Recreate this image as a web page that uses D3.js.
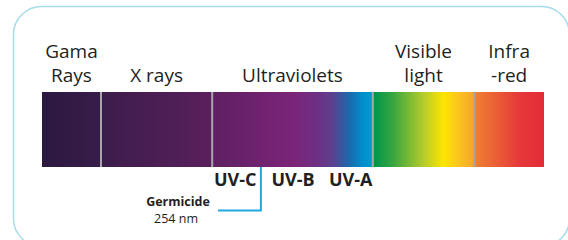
<!DOCTYPE html>
<html lang="en">
<head>
<meta charset="UTF-8">
<title>Spectrum</title>
<script src="https://cdn.jsdelivr.net/npm/d3@7"></script>
<style>
  body { margin: 0; background: #fff; }
  text { font-family: "Open Sans", sans-serif; fill: #231f20; }
</style>
</head>
<body>
<script>
// bands of the spectrum (position units 0..100 along the bar)
var bandNames = [["Gama", "Rays"], ["X rays"], ["Ultraviolets"], ["Visible", "light"], ["Infra", "-red"]];
var bandEdges = [0, 11.75, 33.9, 65.9, 86.1, 100];

// UV sub bands
var uvNames = ["UV-C", "UV-B", "UV-A"];
var uvCenters = [38.5, 50, 61.5];

// germicide marker
var germPos = 43.6;
var germLabel = ["Germicide", "254 nm"];

// colour stops along the bar
var stopPos = [0, 11.7, 11.8, 33.8, 34, 50, 55, 58, 61, 64, 65.8, 66.2, 70, 76, 80, 83, 85.9, 86.3, 91, 95, 100];
var stopColors = ["#2c1940", "#381c49", "#3b1d4b", "#5a1f5d", "#5e2061", "#7b2479", "#6d3083", "#5b418f", "#1e66aa", "#0090cc", "#0099d0",
                  "#00964b", "#3aa640", "#b4cc2c", "#fee500", "#fbc420", "#f5a72a", "#f07f33", "#ea5a36", "#e6393a", "#e32b36"];

var width = 568, height = 240;

var svg = d3.select("body").append("svg")
    .attr("width", width)
    .attr("height", height);

// frame
svg.append("rect")
    .attr("x", 13.5).attr("y", 6.5)
    .attr("width", 556).attr("height", 240)
    .attr("rx", 28).attr("ry", 28)
    .attr("fill", "none")
    .attr("stroke", "#a9dcea")
    .attr("stroke-width", 1.5);

var x = d3.scaleLinear().domain([0, 100]).range([42, 544]);
var barTop = 92, barBottom = 167;

var grad = svg.append("defs").append("linearGradient")
    .attr("id", "spec")
    .attr("gradientUnits", "userSpaceOnUse")
    .attr("x1", x(0)).attr("x2", x(100))
    .attr("y1", 0).attr("y2", 0);

grad.selectAll("stop")
    .data(stopPos)
    .enter().append("stop")
    .attr("offset", function (d) { return d / 100; })
    .attr("stop-color", function (d, i) { return stopColors[i]; });

svg.append("rect")
    .attr("x", x(0)).attr("y", barTop)
    .attr("width", x(100) - x(0))
    .attr("height", barBottom - barTop)
    .attr("fill", "url(#spec)");

// separators
svg.selectAll("line.sep")
    .data(bandEdges.slice(1, -1))
    .enter().append("line")
    .attr("class", "sep")
    .attr("x1", function (d) { return x(d); })
    .attr("x2", function (d) { return x(d); })
    .attr("y1", barTop).attr("y2", barBottom)
    .attr("stroke", "#a7a7a9")
    .attr("stroke-width", 2);

// band labels
var lab = svg.selectAll("text.band")
    .data(bandNames)
    .enter().append("text")
    .attr("class", "band")
    .attr("text-anchor", "middle")
    .attr("font-size", "19px")
    .attr("x", function (d, i) { return x((bandEdges[i] + bandEdges[i + 1]) / 2); });

lab.selectAll("tspan")
    .data(function (d) { return d.length == 1 ? ["", d[0]] : d; })
    .enter().append("tspan")
    .attr("x", function () { return d3.select(this.parentNode).attr("x"); })
    .attr("y", function (d, i) { return 58 + i * 24; })
    .text(function (d) { return d; });

// germicide line
svg.append("path")
    .attr("d", "M" + x(germPos) + "," + barBottom + "V210.5H218")
    .attr("fill", "none")
    .attr("stroke", "#1ea9e1")
    .attr("stroke-width", 2);

// UV sub labels
svg.selectAll("text.uv")
    .data(uvNames)
    .enter().append("text")
    .attr("class", "uv")
    .attr("text-anchor", "middle")
    .attr("font-size", "18px")
    .attr("font-weight", "bold")
    .attr("x", function (d, i) { return x(uvCenters[i]); })
    .attr("y", 186)
    .text(function (d) { return d; });

svg.append("text")
    .attr("x", 178).attr("y", 206)
    .attr("text-anchor", "middle")
    .attr("font-size", "12.5px")
    .attr("font-weight", "bold")
    .text(germLabel[0]);

svg.append("text")
    .attr("x", 176).attr("y", 223)
    .attr("text-anchor", "middle")
    .attr("font-size", "12.5px")
    .text(germLabel[1]);
</script>
</body>
</html>
